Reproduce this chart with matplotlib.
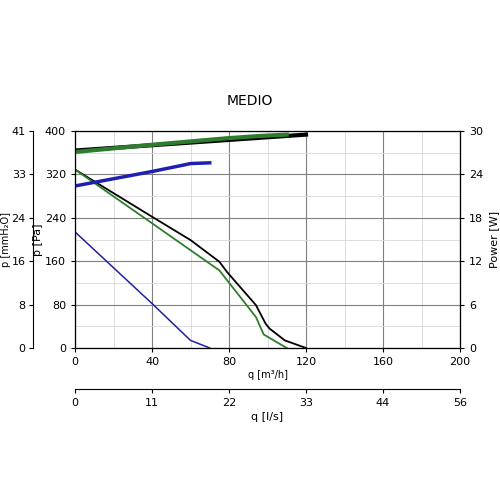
import matplotlib
matplotlib.use("Agg")
import matplotlib.pyplot as plt

bk_q = [0, 40, 60, 75, 79, 94, 99, 101, 109, 120]
bk_p = [329, 242, 199, 159, 140, 79, 45, 36, 14, 0]
gr_q = [0, 40, 75, 79, 94, 98, 110]
gr_p = [329, 230, 143, 125, 57, 25, 0]
bl_q = [0, 40, 50, 60, 70]
bl_p = [214, 82, 48, 14, 0]
bkw_q = [0, 120]
bkw_w = [27.3, 29.5]
grw_q = [0, 40, 79, 95, 110]
grw_w = [27.1, 28.1, 29.0, 29.3, 29.5]
blw_q = [0, 40, 56.5, 60, 70]
blw_w = [22.4, 24.4, 25.3, 25.5, 25.6]
mmh2o_ticks = ["0", "8", "16", "24", "33", "41"]
ls_ticks = ["0", "11", "22", "33", "44", "56"]

fig = plt.figure(figsize=(5, 5), dpi=100)
ax = fig.add_axes([0.15, 0.304, 0.77, 0.434])
ax.set_xlim(0, 200); ax.set_ylim(0, 400)
ax.set_xticks(range(0, 201, 40)); ax.set_yticks(range(0, 401, 80))
ax.set_xticks(range(0, 201, 20), minor=True); ax.set_yticks(range(0, 401, 40), minor=True)
ax.grid(which="major", color="#808080", lw=0.8)
ax.grid(which="minor", color="#d8d8d8", lw=0.6)
ax.tick_params(which="minor", length=0)
ax.tick_params(labelsize=8, length=3)
ax.set_ylabel("p [Pa]", fontsize=8, labelpad=1)
ax.set_xlabel("q [m³/h]", fontsize=7, labelpad=2)
for s in ax.spines.values(): s.set_color("#606060")

ax.plot(bk_q, bk_p, color="black", lw=1.3)
ax.plot(gr_q, gr_p, color="#2e7d2e", lw=1.3)
ax.plot(bl_q, bl_p, color="#2020a0", lw=1.1)

axw = ax.twinx()
axw.set_ylim(0, 30); axw.set_yticks(range(0, 31, 6))
axw.tick_params(labelsize=8, length=3)
axw.set_ylabel("Power [W]", fontsize=8)
axw.plot(bkw_q, bkw_w, color="black", lw=3)
axw.plot(grw_q, grw_w, color="#2e7d2e", lw=3)
axw.plot(blw_q, blw_w, color="#2020b0", lw=2.5)

axm = ax.twinx()
axm.spines["right"].set_visible(False)
axm.spines["left"].set_position(("axes", -0.11))
axm.yaxis.set_label_position("left"); axm.yaxis.set_ticks_position("left")
axm.set_ylim(0, 400); axm.set_yticks(range(0, 401, 80)); axm.set_yticklabels(mmh2o_ticks)
axm.tick_params(labelsize=8, length=3, pad=2)
axm.set_ylabel("p [mmH₂O]", fontsize=7, labelpad=0)

axl = ax.twiny()
axl.spines["top"].set_visible(False)
axl.spines["bottom"].set_position(("axes", -0.19))
axl.xaxis.set_label_position("bottom"); axl.xaxis.set_ticks_position("bottom")
axl.set_xlim(0, 200); axl.set_xticks(range(0, 201, 40)); axl.set_xticklabels(ls_ticks)
axl.tick_params(labelsize=8, length=3)
axl.set_xlabel("q [l/s]", fontsize=8, labelpad=3)

fig.text(0.5, 0.79, "MEDIO", ha="center", fontsize=10)
fig.savefig("out.png", dpi=100)
